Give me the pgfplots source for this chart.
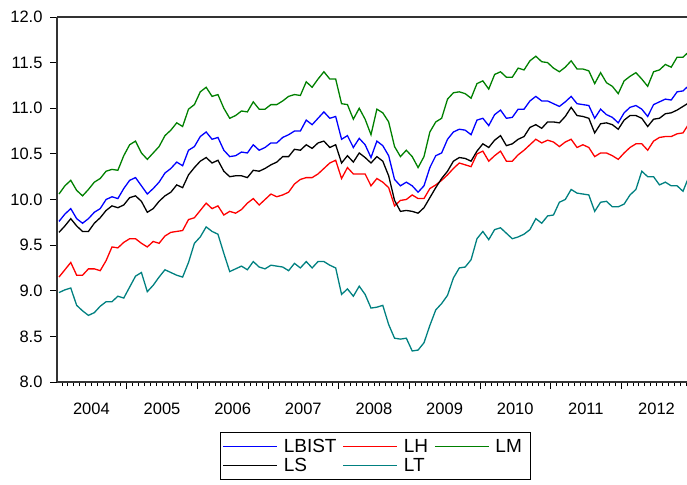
\documentclass[border=0pt]{standalone}
\usepackage{fontspec}
\setmainfont{Liberation Sans}
\usepackage{pgfplots}
\usepackage{pgfplotstable}
\pgfplotsset{compat=1.18}
\definecolor{cB}{RGB}{0,0,255}
\definecolor{cR}{RGB}{255,0,0}
\definecolor{cG}{RGB}{0,128,0}
\definecolor{cT}{RGB}{0,128,128}
\pgfplotstableread{
i LBIST LH LM LS LT
0 9.76 9.15 10.06 9.64 8.98
1 9.84 9.23 10.15 9.71 9.01
2 9.90 9.31 10.21 9.79 9.03
3 9.79 9.17 10.10 9.71 8.84
4 9.74 9.17 10.04 9.65 8.78
5 9.79 9.24 10.11 9.65 8.73
6 9.86 9.24 10.19 9.74 8.76
7 9.90 9.22 10.23 9.80 8.83
8 10.00 9.33 10.31 9.88 8.88
9 10.03 9.48 10.33 9.93 8.88
10 10.01 9.47 10.32 9.91 8.94
11 10.12 9.53 10.48 9.94 8.92
12 10.21 9.57 10.60 10.02 9.04
13 10.24 9.57 10.64 10.04 9.16
14 10.15 9.52 10.51 9.98 9.20
15 10.06 9.48 10.44 9.86 8.99
16 10.12 9.54 10.51 9.90 9.06
17 10.19 9.52 10.58 9.98 9.15
18 10.29 9.60 10.70 10.04 9.23
19 10.34 9.64 10.76 10.08 9.20
20 10.41 9.65 10.84 10.16 9.17
21 10.37 9.66 10.80 10.13 9.15
22 10.54 9.78 10.99 10.27 9.31
23 10.58 9.80 11.04 10.35 9.52
24 10.69 9.88 11.18 10.42 9.59
25 10.74 9.96 11.23 10.46 9.70
26 10.66 9.90 11.13 10.40 9.65
27 10.68 9.93 11.15 10.43 9.62
28 10.54 9.83 11.00 10.31 9.41
29 10.47 9.87 10.89 10.25 9.21
30 10.48 9.85 10.92 10.26 9.24
31 10.52 9.89 10.97 10.26 9.27
32 10.51 9.96 10.96 10.24 9.23
33 10.60 10.01 11.07 10.32 9.32
34 10.54 9.94 10.99 10.31 9.26
35 10.57 10.00 10.99 10.34 9.24
36 10.62 10.06 11.04 10.38 9.28
37 10.62 10.03 11.04 10.41 9.27
38 10.68 10.05 11.08 10.47 9.26
39 10.71 10.08 11.13 10.47 9.22
40 10.75 10.17 11.15 10.55 9.30
41 10.75 10.22 11.14 10.54 9.25
42 10.87 10.24 11.29 10.60 9.32
43 10.82 10.24 11.23 10.56 9.25
44 10.89 10.28 11.32 10.62 9.32
45 10.96 10.34 11.40 10.64 9.32
46 10.89 10.40 11.32 10.57 9.28
47 10.91 10.43 11.32 10.60 9.25
48 10.66 10.23 11.05 10.40 8.96
49 10.70 10.35 11.04 10.48 9.02
50 10.57 10.28 10.88 10.41 8.94
51 10.67 10.28 11.00 10.51 9.05
52 10.60 10.28 10.88 10.46 8.96
53 10.46 10.15 10.71 10.40 8.81
54 10.64 10.23 10.99 10.47 8.82
55 10.59 10.19 10.95 10.42 8.84
56 10.48 10.13 10.85 10.26 8.63
57 10.22 9.93 10.58 9.99 8.48
58 10.15 9.99 10.47 9.87 8.47
59 10.19 10.00 10.54 9.88 8.48
60 10.15 10.05 10.47 9.87 8.34
61 10.08 10.01 10.35 9.85 8.35
62 10.15 10.01 10.47 9.91 8.43
63 10.35 10.12 10.74 10.02 8.62
64 10.48 10.16 10.85 10.13 8.79
65 10.51 10.21 10.89 10.23 8.86
66 10.66 10.27 11.10 10.31 8.95
67 10.74 10.34 11.17 10.42 9.14
68 10.77 10.40 11.18 10.46 9.25
69 10.76 10.38 11.16 10.45 9.26
70 10.71 10.36 11.11 10.42 9.34
71 10.87 10.50 11.27 10.53 9.57
72 10.89 10.53 11.30 10.61 9.65
73 10.81 10.42 11.21 10.57 9.56
74 10.93 10.48 11.37 10.65 9.67
75 10.98 10.53 11.40 10.70 9.69
76 10.89 10.42 11.34 10.59 9.63
77 10.90 10.42 11.34 10.61 9.57
78 10.99 10.49 11.44 10.66 9.59
79 10.99 10.54 11.42 10.69 9.62
80 11.08 10.60 11.52 10.79 9.67
81 11.13 10.66 11.57 10.82 9.79
82 11.08 10.62 11.51 10.78 9.74
83 11.08 10.65 11.50 10.85 9.82
84 11.05 10.63 11.44 10.85 9.83
85 11.02 10.58 11.40 10.84 9.97
86 11.07 10.63 11.45 10.91 10.00
87 11.13 10.66 11.52 11.01 10.11
88 11.05 10.57 11.43 10.92 10.07
89 11.04 10.60 11.43 10.91 10.06
90 11.03 10.57 11.41 10.89 10.05
91 10.89 10.47 11.27 10.73 9.87
92 10.99 10.51 11.39 10.83 9.97
93 10.93 10.51 11.28 10.84 9.98
94 10.90 10.48 11.24 10.82 9.92
95 10.84 10.44 11.16 10.77 9.92
96 10.95 10.51 11.30 10.87 9.95
97 11.01 10.57 11.35 10.92 10.05
98 11.03 10.61 11.39 10.92 10.11
99 10.99 10.61 11.32 10.89 10.31
100 10.91 10.54 11.24 10.80 10.25
101 11.04 10.64 11.40 10.88 10.25
102 11.07 10.68 11.42 10.89 10.16
103 11.10 10.69 11.48 10.94 10.19
104 11.09 10.69 11.45 10.95 10.15
105 11.18 10.72 11.56 10.98 10.15
106 11.19 10.73 11.56 11.02 10.09
107 11.25 10.83 11.62 11.06 10.25
}\data
\begin{document}
\begin{tikzpicture}
\path[use as bounding box] (0,0) rectangle (687bp,485bp);
\begin{axis}[
  at={(57bp,103bp)}, anchor=south west,
  width=630bp, height=365bp, scale only axis,
  xmin=-0.34, xmax=106.68, ymin=8, ymax=12,
  axis x line*=box, axis y line*=left,
  axis line style={line width=1.3bp, black!80},
  xtick pos=bottom, ytick pos=left,
  tick align=outside,
  major tick length=7bp, minor tick length=4bp,
  every tick/.style={black, line width=0.8bp},
  xtick={11.5,23.5,35.5,47.5,59.5,71.5,83.5,95.5},
  xticklabels={},
  minor xtick={0.5,1.5,...,106.5},
  extra x ticks={5.5,17.5,29.5,41.5,53.5,65.5,77.5,89.5,101.5},
  extra x tick labels={2004,2005,2006,2007,2008,2009,2010,2011,2012},
  extra x tick style={major tick length=0pt, xticklabel style={yshift=-17bp}},
  ytick={8,8.5,...,12},
  yticklabel style={xshift=-4bp, /pgf/number format/.cd, fixed, fixed zerofill, precision=1, assume math mode=true},
  ticklabel style={font=\fontsize{16.5bp}{19bp}\selectfont},
  legend columns=3,
  legend cell align=left,
  legend image code/.code={\path (-8bp,0bp) -- (46bp,0bp);\draw[#1] (0bp,0bp) -- (46bp,0bp);},
  legend style={at={(0.505,-0.137)}, anchor=north, draw=black,
    font=\fontsize{19bp}{22bp}\selectfont, inner xsep=2bp, inner ysep=5bp, row sep=0bp,
    nodes={inner xsep=6bp}},
]
\addplot[cB, line width=1.3bp] table[x=i,y=LBIST]{\data};
\addlegendentry{LBIST}
\addplot[cR, line width=1.3bp] table[x=i,y=LH]{\data};
\addlegendentry{LH}
\addplot[cG, line width=1.3bp] table[x=i,y=LM]{\data};
\addlegendentry{LM}
\addplot[black, line width=1.3bp] table[x=i,y=LS]{\data};
\addlegendentry{LS}
\addplot[cT, line width=1.3bp] table[x=i,y=LT]{\data};
\addlegendentry{LT}
\end{axis}
\end{tikzpicture}
\end{document}
